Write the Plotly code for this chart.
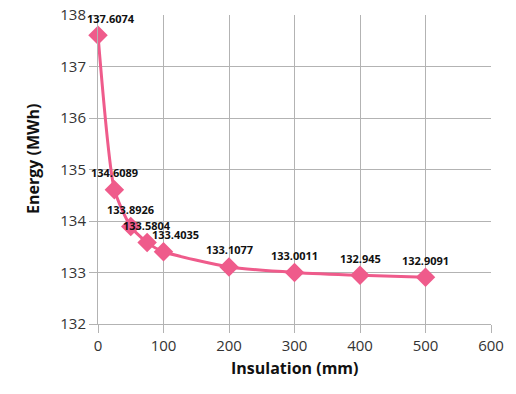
import plotly.graph_objects as go

insulation = [0, 25, 50, 75, 100, 200, 300, 400, 500]
energy = [137.6074, 134.6089, 133.8926, 133.5804, 133.4035, 133.1077, 133.0011, 132.945, 132.9091]
labels = ["137.6074", "134.6089", "133.8926", "133.5804", "133.4035", "133.1077", "133.0011", "132.945", "132.9091"]
label_xshift = [13, 0, 0, 0, 12, 0, 0, 0, 0]
x_title = "Insulation (mm)"
y_title = "Energy (MWh)"

PINK = "#EF5B8B"
GRID = "#B3B3B3"
FONT = "Open Sans"

fig = go.Figure()
fig.add_trace(go.Scatter(
    x=insulation, y=energy, mode="lines+markers",
    line=dict(color=PINK, width=3, shape="spline", smoothing=0.6),
    marker=dict(symbol="diamond", size=15, color=PINK),
    cliponaxis=False, showlegend=False, hoverinfo="skip",
))

for x, y, t, dx in zip(insulation, energy, labels, label_xshift):
    fig.add_annotation(x=x, y=y, text="<b>" + t + "</b>", showarrow=False,
                       yshift=17, xshift=dx,
                       font=dict(family=FONT, size=11, color="#111111"))

fig.add_annotation(xref="paper", yref="paper", x=0.5, y=0, yshift=-57,
                   text="<b>" + x_title + "</b>", showarrow=False,
                   font=dict(family=FONT, size=16, color="#111111"))
fig.add_annotation(xref="paper", yref="paper", x=0, y=0.534, xshift=-78,
                   text="<b>" + y_title + "</b>", showarrow=False, textangle=-90,
                   font=dict(family=FONT, size=16, color="#111111"))

fig.update_layout(
    width=516, height=394,
    margin=dict(l=98, r=25, t=15, b=70, autoexpand=False),
    paper_bgcolor="white", plot_bgcolor="white",
    font=dict(family=FONT, color="#333333"),
)
fig.update_xaxes(
    range=[0, 600], dtick=100, tick0=0, automargin=False,
    showgrid=True, gridcolor=GRID, gridwidth=1,
    showline=True, linecolor=GRID, mirror=False,
    ticks="outside", ticklen=8, tickcolor=GRID,
    tickfont=dict(size=15, color="#333333"),
    zeroline=False,
)
fig.update_yaxes(
    range=[132, 138], dtick=1, automargin=False,
    showgrid=True, gridcolor=GRID, gridwidth=1,
    showline=True, linecolor=GRID,
    ticks="outside", ticklen=8, tickcolor=GRID,
    tickfont=dict(size=15, color="#333333"),
    zeroline=False,
)

# remove the default page margin so the figure sits at the window's top-left corner
fig.write_html("out.html", config={"displayModeBar": False},
               post_script="document.body.style.margin='0';")
